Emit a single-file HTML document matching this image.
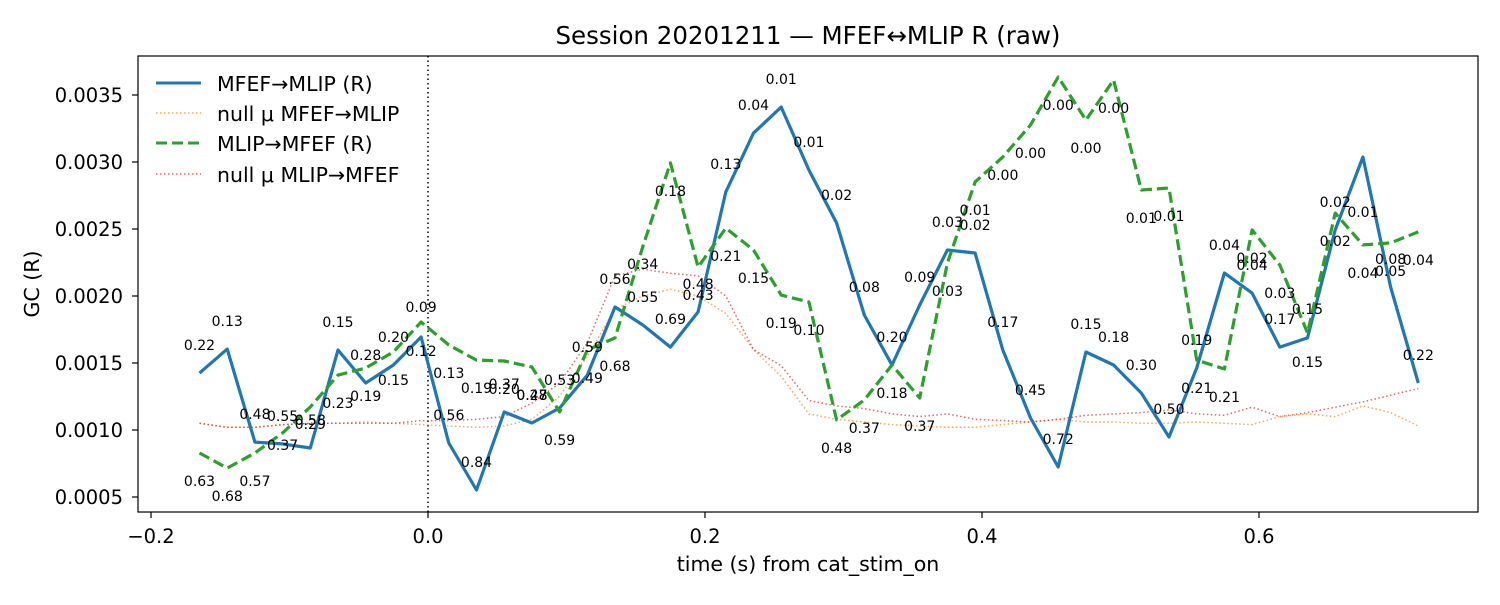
<!DOCTYPE html>
<html><head><meta charset="utf-8"><style>
body{margin:0;background:#fff;}
svg text{font-family:"DejaVu Sans","Liberation Sans",sans-serif;}
</style></head><body>
<svg id="chart" width="1500" height="600" viewBox="0 0 1500 600" xmlns="http://www.w3.org/2000/svg">
<rect width="1500" height="600" fill="#fff"/>
<text x="808" y="44" font-size="24.5" text-anchor="middle">Session 20201211 — MFEF↔MLIP R (raw)</text>
<text x="808" y="571" font-size="20.5" text-anchor="middle">time (s) from cat_stim_on</text>
<text transform="translate(39,284) rotate(-90)" font-size="20.5" text-anchor="middle">GC (R)</text>
<g id="plot"></g>
<g id="legend">
 <line x1="156" y1="83" x2="201" y2="83" stroke="#1f77b4" stroke-width="3"/>
 <text x="217" y="91" font-size="20.5">MFEF→MLIP (R)</text>
 <line x1="156" y1="113" x2="201" y2="113" stroke="#ff7f0e" stroke-opacity="0.7" stroke-width="1.5" stroke-dasharray="1.5,2.5"/>
 <text x="217" y="121" font-size="20.5">null μ MFEF→MLIP</text>
 <line x1="156" y1="143" x2="201" y2="143" stroke="#2ca02c" stroke-width="3" stroke-dasharray="11,5"/>
 <text x="217" y="151" font-size="20.5">MLIP→MFEF (R)</text>
 <line x1="156" y1="174" x2="201" y2="174" stroke="#d62728" stroke-opacity="0.7" stroke-width="1.5" stroke-dasharray="1.5,2.5"/>
 <text x="217" y="182" font-size="20.5">null μ MLIP→MFEF</text>
</g>
</svg>
<script>
const times = Array.from({length:45}, (_, k) => +(-0.165 + 0.02*k).toFixed(3));
const blueVals = [0.001425,0.001604,0.000910,0.000896,0.000866,0.001597,0.001351,0.001485,0.001694,0.000903,0.000552,0.001134,0.001052,0.001164,0.001410,0.001918,0.001784,0.001619,0.001881,0.002776,0.003216,0.003410,0.002940,0.002545,0.001858,0.001485,0.001933,0.002343,0.002321,0.001597,0.001090,0.000724,0.001582,0.001485,0.001276,0.000948,0.001463,0.002172,0.002022,0.001619,0.001687,0.002493,0.003037,0.002067,0.001351];
const greenVals = [0.000828,0.000716,0.000828,0.000978,0.001172,0.001410,0.001463,0.001582,0.001806,0.001634,0.001522,0.001515,0.001470,0.001134,0.001597,0.001687,0.002366,0.002993,0.002216,0.002507,0.002343,0.002007,0.001955,0.001075,0.001224,0.001485,0.001239,0.002246,0.002851,0.003037,0.003276,0.003634,0.003313,0.003612,0.002791,0.002806,0.001522,0.001455,0.002493,0.002231,0.001724,0.002619,0.002381,0.002396,0.002478];
const nullBlue = [0.00105,0.00102,0.00102,0.00104,0.00105,0.00105,0.00106,0.00105,0.00104,0.00103,0.00102,0.00103,0.00108,0.00125,0.00155,0.00190,0.00200,0.00205,0.00200,0.00187,0.00160,0.00140,0.00112,0.00108,0.00106,0.00104,0.00103,0.00102,0.00102,0.00104,0.00106,0.00108,0.00106,0.00106,0.00105,0.00105,0.00106,0.00105,0.00104,0.00110,0.00112,0.00110,0.00118,0.00113,0.00103];
const nullGreen = [0.00105,0.00102,0.00102,0.00104,0.00105,0.00105,0.00105,0.00105,0.00107,0.00107,0.00108,0.00110,0.00120,0.00135,0.00165,0.00215,0.00220,0.00217,0.00215,0.00200,0.00160,0.00148,0.00122,0.00118,0.00116,0.00112,0.00110,0.00112,0.00108,0.00107,0.00106,0.00108,0.00111,0.00112,0.00113,0.00115,0.00112,0.00111,0.00117,0.00110,0.00113,0.00117,0.00121,0.00126,0.00131];
const blueP = ["0.22","0.13","0.48","0.55","0.58","0.15","0.28","0.20","0.12","0.56","0.84","0.37","0.47","0.53","0.59","0.56","0.55","0.69","0.48","0.13","0.04","0.01","0.01","0.02","0.08","0.20","0.09","0.03","0.02","0.17","0.45","0.72","0.15","0.18","0.30","0.50","0.19","0.04","0.04","0.17","0.15","0.02","0.01","0.08","0.22"];
const greenP = ["0.63","0.68","0.57","0.37","0.29","0.23","0.19","0.15","0.09","0.13","0.19","0.20","0.28","0.59","0.49","0.68","0.34","0.18","0.43","0.21","0.15","0.19","0.10","0.48","0.37","0.18","0.37","0.03","0.01","0.00","0.00","0.00","0.00","0.00","0.01","0.01","0.21","0.21","0.02","0.03","0.15","0.02","0.04","0.05","0.04"];
const blueLabelDy = Array(45).fill(-28);
blueLabelDy[8] = 14; blueLabelDy[40] = 24; blueLabelDy[42] = 55;
const greenLabelDy = Array(45).fill(28);
greenLabelDy[3] = 12; greenLabelDy[4] = 17; greenLabelDy[8] = -15; greenLabelDy[16] = 17; greenLabelDy[29] = 18; greenLabelDy[40] = -24;
const xTicks = [-0.2, 0.0, 0.2, 0.4, 0.6];
const xTickLabels = ["−0.2","0.0","0.2","0.4","0.6"];
const yTicks = [0.0005,0.0010,0.0015,0.0020,0.0025,0.0030,0.0035];
const yTickLabels = ["0.0005","0.0010","0.0015","0.0020","0.0025","0.0030","0.0035"];

const L=138, R=1478, T=56, B=512;
const xS = t => 428 + t*1385;
const yS = v => 430 - (v-0.001)/0.0005*67;
const NS='http://www.w3.org/2000/svg';
const plot = document.getElementById('plot');
function mk(tag, attrs, parent){const e=document.createElementNS(NS,tag);for(const k in attrs)e.setAttribute(k,attrs[k]);(parent||plot).appendChild(e);return e;}

let zl = mk('line',{x1:xS(0),y1:T,x2:xS(0),y2:B,stroke:'#000','stroke-width':1.5,'stroke-dasharray':'1.5,3'});



function series(vals, name, stroke, width, dash, opacity){
  const d = vals.map((v,i)=>(i?'L':'M')+xS(times[i]).toFixed(1)+','+yS(v).toFixed(1)).join(' ');
  const p = mk('path',{d:d,fill:'none',stroke:stroke,'stroke-width':width,'stroke-linejoin':'round'});
  if(dash) p.setAttribute('stroke-dasharray',dash);
  if(opacity) p.setAttribute('stroke-opacity',opacity);
  
  
}
series(nullBlue,'null-mfef-mlip-line','#ff7f0e',1.5,'1.5,2.5',0.7);
series(nullGreen,'null-mlip-mfef-line','#d62728',1.5,'1.5,2.5',0.7);
series(blueVals,'mfef-mlip-line','#1f77b4',3.2,null,null);
series(greenVals,'mlip-mfef-line','#2ca02c',3.2,'11,5',null);

function labels(vals, ps, dys, name){
  vals.forEach((v,i)=>{
    const t = mk('text',{x:xS(times[i]).toFixed(1),y:(yS(v)+dys[i]+5).toFixed(1),'font-size':14,'text-anchor':'middle'});
    t.textContent = ps[i];
    
    
  });
}
labels(blueVals, blueP, blueLabelDy, 'p-value-label-mfef-mlip');
labels(greenVals, greenP, greenLabelDy, 'p-value-label-mlip-mfef');

let fr = mk('rect',{x:L,y:T,width:R-L,height:B-T,fill:'none',stroke:'#000','stroke-width':1.2});


xTicks.forEach((t,i)=>{
  const x = xS(t);
  const tk = mk('line',{x1:x,y1:B,x2:x,y2:B+6,stroke:'#000','stroke-width':1.2});
  
  
  const tx = mk('text',{x:x,y:B+31,'font-size':19.5,'text-anchor':'middle'});
  tx.textContent = xTickLabels[i];
  
  
});
yTicks.forEach((v,i)=>{
  const y = yS(v);
  const tk = mk('line',{x1:L-6,y1:y,x2:L,y2:y,stroke:'#000','stroke-width':1.2});
  
  
  const tx = mk('text',{x:L-15,y:y+7,'font-size':19.5,'text-anchor':'end'});
  tx.textContent = yTickLabels[i];
  
  
});
</script>
</body></html>
